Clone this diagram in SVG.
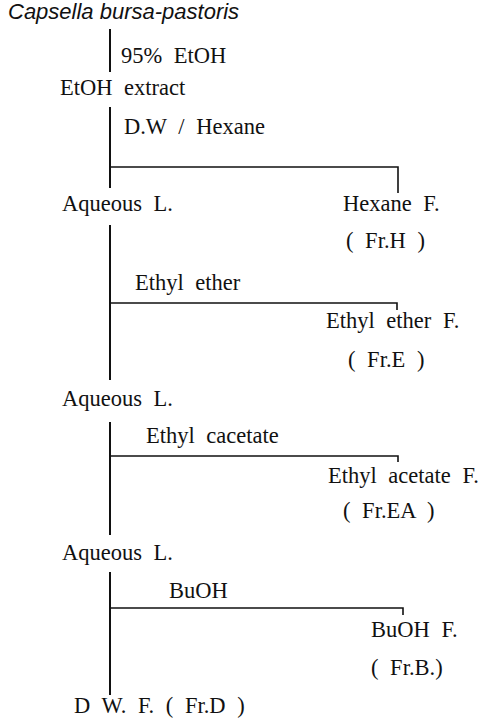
<svg xmlns="http://www.w3.org/2000/svg" width="488" height="722" viewBox="0 0 488 722">
  <style>
    .t { font-size: 22.5px; word-spacing: 6px; fill: #111; }
    .sp { font-size: 22px; font-style: italic; fill: #111; }
    .ln { stroke: #111; stroke-width: 2; fill: none; }
    .br { stroke: #111; stroke-width: 1.6; fill: none; }
  </style>
  <rect width="488" height="722" fill="#fff"/>

  <!-- nodes -->
  <g id="plant" font-family="Liberation Sans, Arial, sans-serif"><text class="sp" x="8" y="19">Capsella bursa-pastoris</text></g>
  <g font-family="Liberation Serif, Times New Roman, serif">
    <g id="extract"><text class="t" x="60" y="95">EtOH extract</text></g>
    <g id="aqueous1"><text class="t" x="62" y="211">Aqueous L.</text></g>
    <g id="hexane"><text class="t" x="343" y="211">Hexane F.</text><text class="t" x="346" y="248">( Fr.H )</text></g>
    <g id="ether"><text class="t" x="326" y="328">Ethyl ether F.</text><text class="t" x="348" y="367">( Fr.E )</text></g>
    <g id="aqueous2"><text class="t" x="62" y="406">Aqueous L.</text></g>
    <g id="acetate"><text class="t" x="328" y="483">Ethyl acetate F.</text><text class="t" x="343" y="518">( Fr.EA )</text></g>
    <g id="aqueous3"><text class="t" x="62" y="560">Aqueous L.</text></g>
    <g id="butanol"><text class="t" x="371" y="637">BuOH F.</text><text class="t" x="371" y="675">( Fr.B.)</text></g>
    <g id="water"><text class="t" x="74" y="713">D W. F. ( Fr.D )</text></g>

    <!-- connectors with solvent labels -->
    <g id="connectors">
      <path class="ln" d="M110 29V72"/>
      <text class="t" x="121" y="63">95% EtOH</text>

      <path class="ln" d="M110 107V188"/>
      <path class="br" d="M110 167H398V193"/>
      <text class="t" x="124" y="134">D.W / Hexane</text>

      <path class="ln" d="M110 225V380"/>
      <path class="br" d="M110 303H397V310"/>
      <text class="t" x="135" y="290">Ethyl ether</text>

      <path class="ln" d="M110 422V535"/>
      <path class="br" d="M110 456H398V462"/>
      <text class="t" x="146" y="443">Ethyl cacetate</text>

      <path class="ln" d="M110 572V695"/>
      <path class="br" d="M110 608H403V615"/>
      <text class="t" x="169" y="598">BuOH</text>
    </g>
  </g>
</svg>
